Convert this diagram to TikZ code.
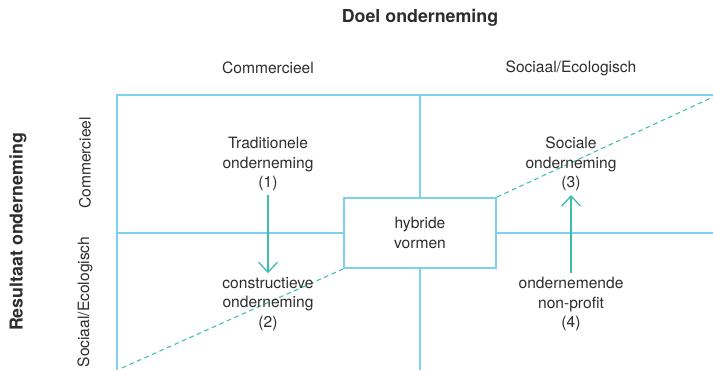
\documentclass[tikz,border=0pt]{standalone}
\usepackage{fontspec}
\setmainfont{TeX Gyre Heros}
\usetikzlibrary{arrows.meta}
\usetikzlibrary{positioning}

\definecolor{gridblue}{RGB}{125,208,238}
\definecolor{arrowteal}{RGB}{60,190,172}
\definecolor{textgrey}{RGB}{45,45,45}

\tikzset{
    gridline/.style={draw=gridblue, line width=1.6pt},
    celltext/.style={align=center, text=textgrey, font=\fontsize{13.3}{16.6}\selectfont},
    axistitle/.style={text=textgrey, font=\fontsize{15.2}{18}\selectfont\bfseries},
    movearrow/.style={draw=arrowteal, line width=1.1pt, -{Straight Barb[length=3mm,width=5.6mm]}},
    dashline/.style={draw=arrowteal, line width=0.9pt, dash pattern=on 4pt off 3pt},
}

\begin{document}
\begin{tikzpicture}[x=0.03cm, y=-0.03cm]

    \useasboundingbox (0,0) rectangle (713,370);

    % titles
    \node[axistitle] (doel) at (420,18) {Doel onderneming};
    \node[axistitle, rotate=90] (resultaat) at (18,232) {Resultaat onderneming};

    \node[celltext] (col_comm) at (268,68) {Commercieel};
    \node[celltext] (col_soc) at (571,68) {Sociaal/Ecologisch};
    \node[celltext, rotate=90] (row_comm) at (85,163) {Commercieel};
    \node[celltext, rotate=90] (row_soc) at (85,302) {Sociaal/Ecologisch};

    % middle box
    \node[gridline, celltext, minimum width=4.56cm, minimum height=2.1cm] (hybride) at (420,233) {hybride\\vormen};

    % grid
    \draw[gridline] (117,370) -- (117,95) -- (713,95);
    \draw[gridline] (420,95) -- (hybride.north);
    \draw[gridline] (hybride.south) -- (420,370);
    \draw[gridline] (117,233) -- (hybride.west);
    \draw[gridline] (hybride.east) -- (713,233);

    % diagonal
    \coordinate (diag_start) at (122,368);
    \coordinate (diag_end) at (713,97);
    \draw[dashline] (diag_start) -- (hybride.south west);
    \draw[dashline] (hybride.north east) -- (diag_end);

    % cells
    \node[celltext] (traditioneel) at (268,164) {Traditionele\\onderneming\\(1)};
    \node[celltext] (constructief) at (268,304) {constructieve\\onderneming\\(2)};
    \node[celltext] (sociaal) at (571,164) {Sociale\\onderneming\\(3)};
    \node[celltext] (nonprofit) at (571,304) {ondernemende\\non-profit\\(4)};

    \draw[movearrow] (traditioneel.south) -- (constructief.north);
    \draw[movearrow] (nonprofit.north) -- (sociaal.south);

\end{tikzpicture}
\end{document}
